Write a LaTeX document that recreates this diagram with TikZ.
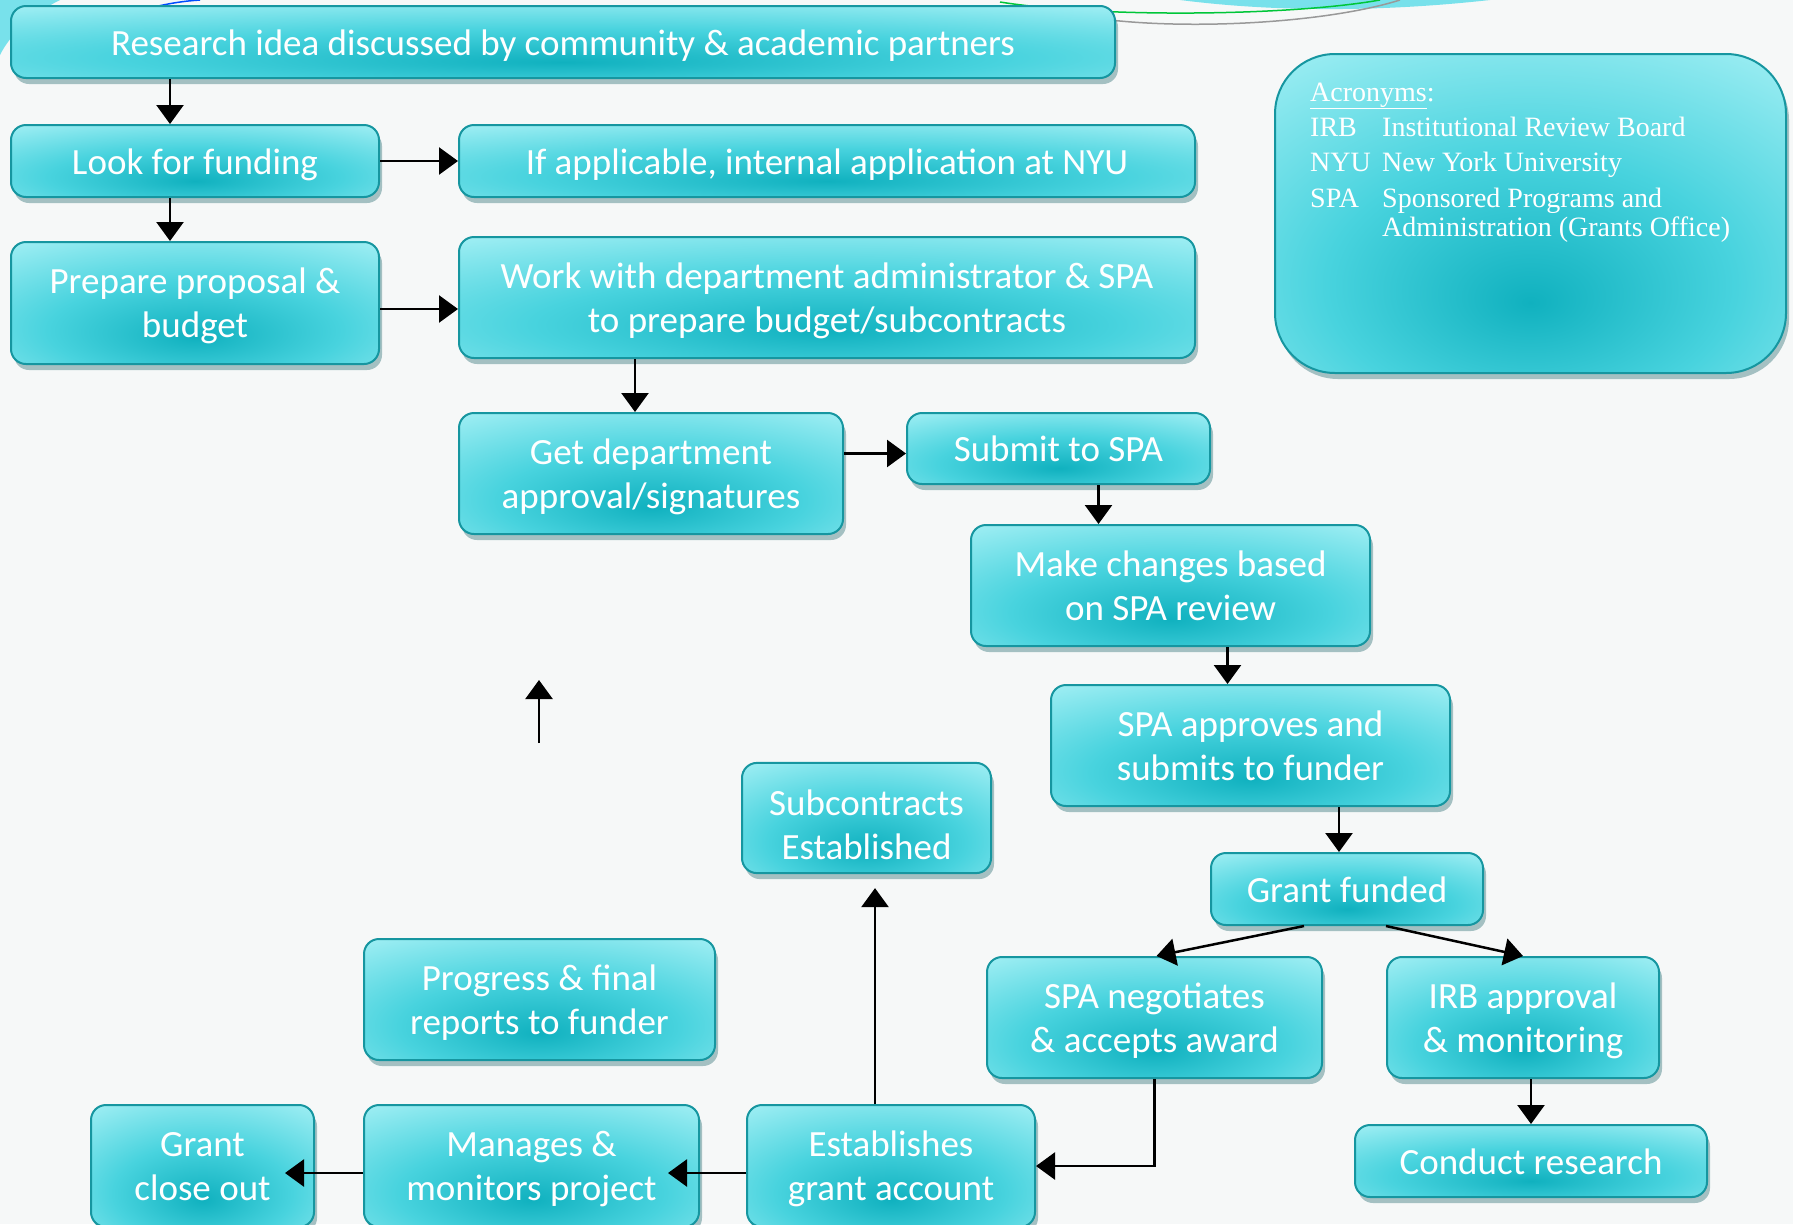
\documentclass[tikz,border=0pt]{standalone}
\usepackage{fontspec}
\setmainfont{Carlito}
\newfontfamily\acrofont{Liberation Serif}
\usetikzlibrary{arrows.meta,shadows,positioning}

\definecolor{tealdeep}{RGB}{16,177,191}
\definecolor{tealmid}{RGB}{72,211,222}
\definecolor{teallight}{RGB}{178,244,248}
\definecolor{tealline}{RGB}{22,150,160}
\definecolor{paper}{RGB}{246,248,248}
\definecolor{decocyan}{RGB}{120,225,235}

\pgfdeclareradialshading{tealglow}{\pgfpoint{0bp}{-14bp}}{color(0bp)=(tealdeep); color(20bp)=(tealmid); color(46bp)=(teallight); color(100bp)=(teallight)}

% two lines of box text, first line held down by a strut
\newcommand{\twoline}[3][38.5pt]{\begin{tabular}{@{}c@{}}\rule{0pt}{#1}#2\\#3\end{tabular}}

\tikzset{
  stepbox/.style={draw=tealline, line width=2pt, rounded corners=15pt,
    shading=tealglow, text=white, align=center, inner sep=0pt,
    font=\fontsize{37}{44}\selectfont,
    execute at begin node={\rule{0pt}{36pt}},
    execute at end node={\rule[-10pt]{0pt}{10pt}},
    drop shadow={shadow xshift=3pt, shadow yshift=-6pt, opacity=0.35, fill=tealline!60!black}},
  acrobox/.style={stepbox, rounded corners=60pt},
  acrotext/.style={anchor=base west, text=white, inner sep=0pt,
    font=\acrofont\fontsize{28}{30}\selectfont},
  arr/.style={line width=2.5pt, -{Triangle[width=27pt,length=19pt]}},
}

\begin{document}
\begin{tikzpicture}[x=1pt, y=-1pt]
  \fill[paper] (0,0) rectangle (1793,1224);
  \useasboundingbox (0,0) rectangle (1793,1224);
  % swooshes along the top edge
  \fill[decocyan] (0,0) -- (60,0) .. controls (30,15) and (10,35) .. (0,55) -- cycle;
  \draw[blue!70!cyan, line width=1.5pt] (150,8) .. controls (170,3) and (185,1) .. (200,0);
  \fill[decocyan] (1180,0) .. controls (1290,14) and (1400,10) .. (1490,0) -- cycle;
  \draw[green!55!teal, line width=1.5pt] (1000,2) .. controls (1100,18) and (1290,16) .. (1380,0);
  \draw[gray!80, line width=1.5pt] (1110,20) .. controls (1200,30) and (1330,22) .. (1400,0);

  \node[stepbox, minimum width=1104pt, minimum height=72pt] (idea) at (563,42)
    {Research idea discussed by community \& academic partners};
  \node[stepbox, minimum width=368pt, minimum height=72pt] (fund) at (195,161)
    {Look for funding};
  \node[stepbox, minimum width=736pt, minimum height=72pt] (nyu) at (827,161)
    {If applicable, internal application at NYU};
  \node[stepbox, minimum width=368pt, minimum height=122pt] (prep) at (195,303)
    {\twoline{Prepare proposal \&}{budget}};
  \node[stepbox, minimum width=736pt, minimum height=121pt] (work) at (827,297.5)
    {\twoline{Work with department administrator \& SPA}{to prepare budget/subcontracts}};
  \node[stepbox, minimum width=384pt, minimum height=121pt] (dept) at (651,473.5)
    {\twoline{Get department}{approval/signatures}};
  \node[stepbox, minimum width=303pt, minimum height=71pt] (submit) at (1058.5,448.5)
    {Submit to SPA};
  \node[stepbox, minimum width=399pt, minimum height=121pt] (changes) at (1170.5,585.5)
    {\twoline{Make changes based}{on SPA review}};
  \node[stepbox, minimum width=399pt, minimum height=121pt] (approves) at (1250.5,745.5)
    {\twoline{SPA approves and}{submits to funder}};
  \node[stepbox, minimum width=249pt, minimum height=108pt] (subk) at (866.5,818)
    {\twoline[53pt]{Subcontracts}{Established}};
  \node[stepbox, minimum width=272pt, minimum height=72pt] (funded) at (1347,889)
    {Grant funded};
  \node[stepbox, minimum width=351pt, minimum height=121pt] (reports) at (539.5,999.5)
    {\twoline{Progress \& final}{reports to funder}};
  \node[stepbox, minimum width=335pt, minimum height=121pt] (negot) at (1154.5,1017.5)
    {\twoline{SPA negotiates}{\& accepts award}};
  \node[stepbox, minimum width=272pt, minimum height=121pt] (irb) at (1523,1017.5)
    {\twoline{IRB approval}{\& monitoring}};
  \node[stepbox, minimum width=352pt, minimum height=72pt] (conduct) at (1531,1161)
    {Conduct research};
  \node[stepbox, minimum width=223pt, minimum height=122pt] (closeout) at (202.5,1166)
    {\twoline{Grant}{close out}};
  \node[stepbox, minimum width=335pt, minimum height=122pt] (manage) at (531.5,1166)
    {\twoline{Manages \&}{monitors project}};
  \node[stepbox, minimum width=288pt, minimum height=122pt] (estab) at (891,1166)
    {\twoline{Establishes}{grant account}};

  % acronym legend
  \node[acrobox, minimum width=511pt, minimum height=319pt] (acro) at (1530.5,213.5) {};
  \node[acrotext] (acrohead) at (1310,101) {\underline{Acronyms}:};
  \node[acrotext] (irbkey) at (1310,136) {IRB};
  \node[acrotext] (irbval) at (1382,136) {Institutional Review Board};
  \node[acrotext] (nyukey) at (1310,171) {NYU};
  \node[acrotext] (nyuval) at (1382,171) {New York University};
  \node[acrotext] (spakey) at (1310,207) {SPA};
  \node[acrotext] (spaval) at (1382,207) {Sponsored Programs and};
  \node[acrotext] (spaval2) at (1382,236) {Administration (Grants Office)};

  \draw[arr] ([xshift=-25pt]fund.north |- idea.south) -- ([xshift=-25pt]fund.north);
  \draw[arr] ([xshift=-25pt]fund.south) -- ([xshift=-25pt]prep.north);
  \draw[arr] (fund.east) -- (nyu.west);
  \draw[arr] ([yshift=-6pt]prep.east) -- ([yshift=-6pt]prep.east -| work.west);
  \draw[arr] ([xshift=-16pt]dept.north |- work.south) -- ([xshift=-16pt]dept.north);
  \draw[arr] ([yshift=-5pt]submit.west -| dept.east) -- ([yshift=-5pt]submit.west);
  \draw[arr] ([xshift=40pt]submit.south) -- ([xshift=40pt]submit.south |- changes.north);
  \draw[arr] ([xshift=-23pt]approves.north |- changes.south) -- ([xshift=-23pt]approves.north);
  \draw[arr] ([xshift=-8pt]funded.north |- approves.south) -- ([xshift=-8pt]funded.north);
  \draw[arr] ([xshift=-43pt]funded.south) -- ([xshift=2pt]negot.north);
  \draw[arr] ([xshift=39pt]funded.south) -- (irb.north);
  \draw[arr] (conduct.north |- irb.south) -- (conduct.north);
  \draw[arr] (negot.south) |- (estab.east);
  \draw[arr] ([xshift=-16pt]estab.north) -- ([xshift=-16pt,yshift=-14pt]estab.north |- subk.south);
  \draw[arr] ([yshift=-7pt]estab.west) -- ([xshift=-32pt,yshift=-7pt]manage.east);
  \draw[arr] ([yshift=-7pt]manage.west) -- ([xshift=-30pt,yshift=-7pt]closeout.east);
  % loose arrow above the reports box
  \coordinate (loosetail) at (539,743);
  \coordinate (loosehead) at (539,680);
  \draw[arr] (loosetail) -- (loosehead);
\end{tikzpicture}
\end{document}
